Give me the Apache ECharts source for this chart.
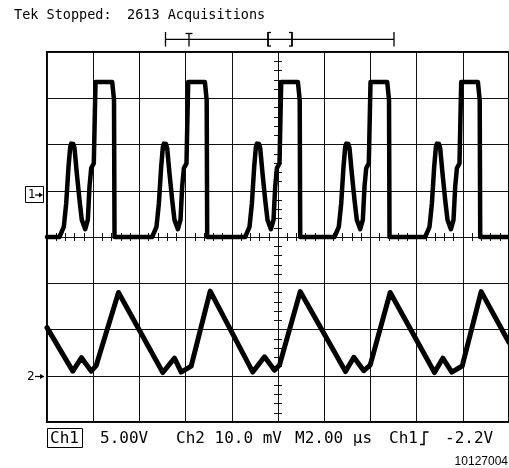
<!DOCTYPE html>
<html>
<head>
<meta charset="utf-8">
<script src="https://cdn.jsdelivr.net/npm/echarts@6/dist/echarts.min.js"></script>
<style>
html,body{margin:0;padding:0;background:#fff;}
#chart{width:509px;height:468px;}
</style>
</head>
<body>
<div id="chart"></div>
<script>
// time in µs relative to screen centre (2 µs/div), level in divisions
const xTicks = [-10, -8, -6, -4, -2, 0, 2, 4, 6, 8, 10];
const yTicks = [-4, -3, -2, -1, 0, 1, 2, 3, 4];

const ch1Start = [[-10, 0]];
const ch1Pulse1 = [[-9.460,0],[-9.385,0.04],[-9.272,0.22],[-9.168,0.73],[-9.069,1.52],[-8.995,1.95],[-8.952,2.02],[-8.909,2.05],[-8.860,2.01],[-8.809,1.92],[-8.710,1.38],[-8.593,0.80],[-8.493,0.37],[-8.346,0.17],[-8.233,0.37],[-8.160,1.09],[-8.086,1.49],[-7.974,1.59],[-7.900,1.59],[-7.900,3.35],[-7.177,3.35],[-7.099,2.96],[-7.077,0]];
const ch1Pulse2 = [[-5.448,0],[-5.373,0.04],[-5.260,0.22],[-5.156,0.73],[-5.057,1.52],[-4.983,1.95],[-4.940,2.02],[-4.897,2.05],[-4.848,2.01],[-4.797,1.92],[-4.698,1.38],[-4.581,0.80],[-4.481,0.37],[-4.334,0.17],[-4.221,0.37],[-4.148,1.09],[-4.074,1.49],[-3.962,1.59],[-3.888,1.59],[-3.888,3.35],[-3.165,3.35],[-3.087,2.96],[-3.065,0]];
const ch1Pulse3 = [[-1.421,0],[-1.346,0.04],[-1.233,0.22],[-1.129,0.73],[-1.030,1.52],[-0.956,1.95],[-0.913,2.02],[-0.870,2.05],[-0.821,2.01],[-0.770,1.92],[-0.671,1.38],[-0.554,0.80],[-0.454,0.37],[-0.307,0.17],[-0.194,0.37],[-0.121,1.09],[-0.047,1.49],[0.065,1.59],[0.139,1.59],[0.139,3.35],[0.862,3.35],[0.940,2.96],[0.962,0]];
const ch1Pulse4 = [[2.445,0],[2.520,0.04],[2.633,0.22],[2.737,0.73],[2.836,1.52],[2.910,1.95],[2.953,2.02],[2.996,2.05],[3.045,2.01],[3.096,1.92],[3.195,1.38],[3.312,0.80],[3.412,0.37],[3.559,0.17],[3.672,0.37],[3.745,1.09],[3.819,1.49],[3.931,1.59],[4.005,1.59],[4.005,3.35],[4.728,3.35],[4.806,2.96],[4.828,0]];
const ch1Pulse5 = [[6.371,0],[6.446,0.04],[6.559,0.22],[6.663,0.73],[6.762,1.52],[6.836,1.95],[6.879,2.02],[6.922,2.05],[6.971,2.01],[7.022,1.92],[7.121,1.38],[7.238,0.80],[7.338,0.37],[7.485,0.17],[7.598,0.37],[7.671,1.09],[7.745,1.49],[7.857,1.59],[7.931,1.59],[7.931,3.35],[8.654,3.35],[8.732,2.96],[8.754,0]];
const ch1End = [[10, 0]];

const ch2Points = [[-10,-1.96],[-8.883,-2.90],[-8.506,-2.61],[-8.087,-2.90],[-7.870,-2.78],[-6.905,-1.20],
  [-4.987,-2.93],[-4.480,-2.62],[-4.190,-2.92],[-3.758,-2.79],[-2.935,-1.17],
  [-1.091,-2.92],[-0.584,-2.59],[-0.151,-2.88],[0.065,-2.77],[0.961,-1.18],
  [2.922,-2.91],[3.282,-2.60],[3.714,-2.89],[3.991,-2.77],[4.857,-1.20],
  [6.775,-2.93],[7.134,-2.62],[7.524,-2.92],[7.974,-2.79],[8.796,-1.18],[10,-2.28]];

const titleWords = ['Tek Stopped:', '2613 Acquisitions'];
const statusWords = ['Ch1', '5.00V', 'Ch2 10.0 mV', 'M2.00 \u00b5s', 'Ch1', '-2.2V'];
const figureId = '10127004';

const ch1Data = [].concat(ch1Start, ch1Pulse1, ch1Pulse2, ch1Pulse3, ch1Pulse4, ch1Pulse5, ch1End);

const mono = 'DejaVu Sans Mono';
const gridCol = '#111';

function xAx(pos, split) {
  return {
    type: 'value', min: xTicks[0], max: xTicks[xTicks.length - 1], interval: 2, position: pos,
    axisLine: { show: true, onZero: true, onZeroAxisIndex: 0, lineStyle: { color: gridCol, width: 1 } },
    axisTick: { show: true, inside: true, length: 4, lineStyle: { color: gridCol, width: 1 } },
    minorTick: { show: true, splitNumber: 5, length: 4, lineStyle: { color: gridCol, width: 1 } },
    axisLabel: { show: false },
    splitLine: { show: split, lineStyle: { color: gridCol, width: 1 } }
  };
}
function yAx(pos, split) {
  return {
    type: 'value', min: yTicks[0], max: yTicks[yTicks.length - 1], interval: 1, position: pos,
    axisLine: { show: true, onZero: true, onZeroAxisIndex: 0, lineStyle: { color: gridCol, width: 1 } },
    axisTick: { show: true, inside: true, length: 4, lineStyle: { color: gridCol, width: 1 } },
    minorTick: { show: true, splitNumber: 5, length: 4, lineStyle: { color: gridCol, width: 1 } },
    axisLabel: { show: false },
    splitLine: { show: split, lineStyle: { color: gridCol, width: 1 } }
  };
}

const chart = echarts.init(document.getElementById('chart'), null, { renderer: 'canvas' });
const txt = (x, y, s, size, fam, align) => ({
  type: 'text', x: x, y: y, silent: true,
  style: { text: s, fill: '#000', font: size + 'px "' + fam + '"', textAlign: align || 'left', textVerticalAlign: 'middle' }
});
const ln = (x1, y1, x2, y2, w) => ({ type: 'line', silent: true, shape: { x1: x1, y1: y1, x2: x2, y2: y2 }, style: { stroke: '#000', lineWidth: w || 1.3 } });

chart.setOption({
  animation: false,
  backgroundColor: '#fff',
  grid: { left: 47, top: 52, width: 463, height: 370, show: true, borderColor: '#000', borderWidth: 2, backgroundColor: 'transparent' },
  xAxis: [xAx('bottom', true), xAx('top', false)],
  yAxis: [yAx('left', true), yAx('right', false)],
  series: [
    { name: 'Ch1', type: 'line', xAxisIndex: 0, yAxisIndex: 0, data: ch1Data, showSymbol: false, symbol: 'none',
      lineStyle: { color: '#000', width: 4.5, join: 'round', cap: 'round' }, z: 5 },
    { name: 'Ch2', type: 'line', xAxisIndex: 0, yAxisIndex: 0, data: ch2Points, showSymbol: false, symbol: 'none',
      lineStyle: { color: '#000', width: 5, join: 'round', cap: 'round' }, z: 5 }
  ],
  graphic: [
    txt(14, 15, titleWords[0], 13.5, mono),
    txt(127, 15, titleWords[1], 13.5, mono),
    // trigger position bar
    ln(165.5, 39.3, 394, 39.3),
    ln(165.5, 32, 165.5, 46.5),
    ln(394, 32, 394, 46.5),
    ln(189, 33.5, 189, 46.5), ln(185.5, 33.5, 192.5, 33.5),
    ln(268, 32, 268, 46.5, 1.8), ln(268, 32.5, 271, 32.5), ln(268, 46, 271, 46),
    ln(292, 32, 292, 46.5, 1.8), ln(289, 32.5, 292, 32.5), ln(289, 46, 292, 46),
    // channel markers
    { type: 'rect', silent: true, shape: { x: 25.5, y: 186.5, width: 18, height: 16 }, style: { fill: 'none', stroke: '#000', lineWidth: 1 } },
    txt(28, 195, '1', 12, 'DejaVu Sans'),
    ln(35, 195, 40, 195, 1.2),
    { type: 'polygon', silent: true, shape: { points: [[39, 192.5], [43, 195], [39, 197.5]] }, style: { fill: '#000' } },
    txt(27, 376.5, '2', 12, 'DejaVu Sans'),
    ln(35, 376.5, 41, 376.5, 1.2),
    { type: 'polygon', silent: true, shape: { points: [[40, 374], [44.5, 376.5], [40, 379]] }, style: { fill: '#000' } },
    // status line
    { type: 'rect', silent: true, shape: { x: 47.5, y: 428.5, width: 35, height: 19 }, style: { fill: 'none', stroke: '#000', lineWidth: 1 } },
    txt(50, 438.5, statusWords[0], 16, mono),
    txt(100, 438.5, statusWords[1], 16, mono),
    txt(176, 438.5, statusWords[2], 16, mono),
    txt(295, 438.5, statusWords[3], 16, mono),
    txt(389, 438.5, statusWords[4], 16, mono),
    { type: 'polyline', silent: true, shape: { points: [[420, 444.5], [424, 444.5], [424, 432], [428.5, 432]] }, style: { stroke: '#000', lineWidth: 1.5, fill: 'none' } },
    txt(445, 438.5, statusWords[5], 16, mono),
    txt(508, 462, figureId, 12, 'Liberation Sans', 'right')
  ]
});
</script>
</body>
</html>
